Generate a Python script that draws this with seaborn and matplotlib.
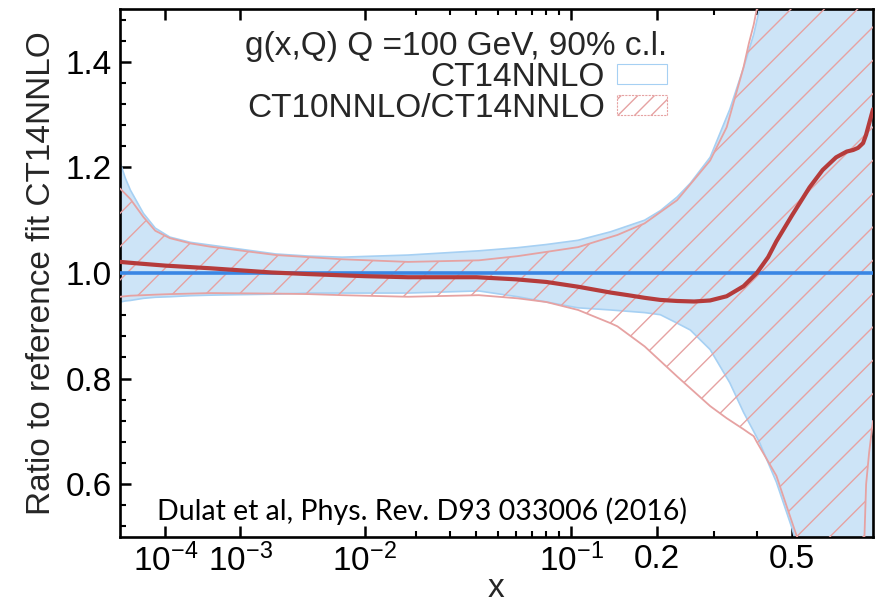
import numpy as np
import pandas as pd
import matplotlib
matplotlib.use("Agg")
import matplotlib.pyplot as plt
import seaborn as sns
from matplotlib.patches import Patch
from matplotlib.ticker import FixedLocator, FixedFormatter, MultipleLocator

# ---- CT14NNLO 90% c.l. uncertainty band (ratio to the CT14NNLO central fit)
x_ct14 = [1e-5, 1.4e-5, 1.9e-5, 3.8e-5, 6.6e-5, 1.2e-4, 2.5e-4, 4.5e-4, 2.2e-3,
          4.1e-3, 7.1e-3, 1.8e-2, 4.1e-2, 6.1e-2, 0.08, 0.106, 0.139, 0.182,
          0.205, 0.232, 0.255, 0.293, 0.335, 0.367, 0.392, 0.407, 0.453, 0.50,
          0.55, 0.8]
ct14_hi = [1.21, 1.18, 1.157, 1.113, 1.085, 1.068, 1.058, 1.053, 1.036,
           1.032, 1.030, 1.034, 1.042, 1.048, 1.054, 1.062, 1.078, 1.100,
           1.118, 1.144, 1.170, 1.219, 1.31, 1.389, 1.452, 1.50, 1.65, 1.80,
           1.95, 2.5]
ct14_lo = [0.945, 0.947, 0.948, 0.952, 0.954, 0.955, 0.957, 0.958, 0.960,
           0.962, 0.962, 0.962, 0.966, 0.955, 0.945, 0.934, 0.930, 0.925,
           0.921, 0.905, 0.892, 0.855, 0.792, 0.736, 0.700, 0.679, 0.604, 0.515,
           0.40, 0.30]

# ---- CT10NNLO / CT14NNLO uncertainty band
x_ct10 = [1e-5, 1.4e-5, 1.9e-5, 3.8e-5, 6.6e-5, 1.2e-4, 2.5e-4, 4.5e-4, 2.2e-3,
          4.1e-3, 7.1e-3, 1.8e-2, 4.1e-2, 6.1e-2, 0.08, 0.106, 0.139, 0.147,
          0.182, 0.232, 0.293, 0.328, 0.367, 0.38, 0.392, 0.40, 0.453, 0.513,
          0.60, 0.757, 0.77, 0.783, 0.8]
ct10_hi = [1.16, 1.15, 1.14, 1.106, 1.08, 1.066, 1.056, 1.050, 1.034,
           1.030, 1.026, 1.021, 1.024, 1.032, 1.040, 1.049, 1.068, 1.072,
           1.094, 1.138, 1.213, 1.276, 1.39, 1.435, 1.47, 1.50, 1.70, 1.90,
           2.2, 2.6, 2.65, 2.7, 2.8]
ct10_lo = [0.955, 0.956, 0.957, 0.958, 0.959, 0.960, 0.961, 0.962, 0.961,
           0.960, 0.958, 0.955, 0.958, 0.952, 0.945, 0.930, 0.905, 0.899,
           0.861, 0.804, 0.748, 0.725, 0.704, 0.697, 0.691, 0.680, 0.616, 0.503,
           0.40, 0.42, 0.60, 0.66, 0.72]

# ---- central values
x_ct14_central = [1e-5, 0.8]
ct14_central = [1.0, 1.0]

x_ratio = [1e-5, 3e-5, 1e-4, 4.5e-4, 2e-3, 4e-3, 1e-2, 1.8e-2, 4e-2, 6e-2,
           0.08, 0.106, 0.139, 0.16, 0.182, 0.205, 0.232, 0.262, 0.293, 0.328,
           0.367, 0.40, 0.43, 0.453, 0.50, 0.555, 0.60, 0.649, 0.69, 0.716,
           0.736, 0.757, 0.77, 0.8]
ratio_central = [1.021, 1.018, 1.014, 1.009, 1.001, 0.998, 0.994, 0.992, 0.992,
                 0.988, 0.983, 0.974, 0.963, 0.958, 0.953, 0.949, 0.947, 0.946,
                 0.948, 0.956, 0.975, 1.000, 1.030, 1.060, 1.110, 1.162, 1.195,
                 1.219, 1.230, 1.233, 1.237, 1.246, 1.262, 1.31]

# ---- axis ticks
x_major = [1e-4, 1e-3, 1e-2, 1e-1, 0.2, 0.5]
x_major_labels = [r"$10^{-4}$", r"$10^{-3}$", r"$10^{-2}$", r"$10^{-1}$", "0.2", "0.5"]
x_minor = [0.02, 0.03, 0.04, 0.05, 0.06, 0.07, 0.08, 0.09, 0.3, 0.4, 0.6, 0.7]
y_major = [0.6, 0.8, 1.0, 1.2, 1.4]

title_text = "g(x,Q) Q =100 GeV, 90% c.l."
label_ct14 = "CT14NNLO"
label_ct10 = "CT10NNLO/CT14NNLO"
citation = "Dulat et al, Phys. Rev. D93 033006 (2016)"

BLUE_FILL = "#cde4f7"
BLUE_EDGE = "#a6d0f3"
BLUE_LINE = "#3a86e4"
RED_HATCH = "#e6a2a2"
RED_LINE = "#b53b3b"
FS = 24

sns.set_theme(style="ticks")
plt.rcParams["font.family"] = ["Liberation Sans", "DejaVu Sans"]
plt.rcParams["mathtext.fontset"] = "custom"
plt.rcParams["mathtext.rm"] = "Liberation Sans"
plt.rcParams["mathtext.it"] = "Liberation Sans:italic"
plt.rcParams["mathtext.bf"] = "Liberation Sans:bold"
plt.rcParams["mathtext.default"] = "regular"
plt.rcParams["hatch.linewidth"] = 1.0

P = 0.22


def fwd(v):
    v = np.asarray(v, dtype=float)
    return np.sign(v) * np.abs(v) ** P


def inv(v):
    v = np.asarray(v, dtype=float)
    return np.sign(v) * np.abs(v) ** (1.0 / P)


fig = plt.figure(figsize=(8.76, 6.04), dpi=100)
ax = fig.add_axes([120 / 876, 67 / 604, 753 / 876, 528 / 604])
ax.set_xscale("function", functions=(fwd, inv))

# CT14NNLO band
ax.fill_between(x_ct14, ct14_lo, ct14_hi, facecolor=BLUE_FILL, edgecolor="none",
                linewidth=0, zorder=1)
ax.plot(x_ct14, ct14_hi, color=BLUE_EDGE, lw=1.2, zorder=2)
ax.plot(x_ct14, ct14_lo, color=BLUE_EDGE, lw=1.2, zorder=2)

# CT10NNLO/CT14NNLO hatched band
ax.fill_between(x_ct10, ct10_lo, ct10_hi, facecolor="none", edgecolor=RED_HATCH,
                hatch="/", linewidth=0, zorder=3)
ax.plot(x_ct10, ct10_hi, color=RED_HATCH, lw=1.3, zorder=3)
ax.plot(x_ct10, ct10_lo, color=RED_HATCH, lw=1.3, zorder=3)

# central curves
df_ct14 = pd.DataFrame({"x": x_ct14_central, "r": ct14_central})
df_ratio = pd.DataFrame({"x": x_ratio, "r": ratio_central})
sns.lineplot(data=df_ct14, x="x", y="r", ax=ax, color=BLUE_LINE, lw=2.6,
             estimator=None, sort=False, zorder=4)
sns.lineplot(data=df_ratio, x="x", y="r", ax=ax, color=RED_LINE, lw=3.0,
             estimator=None, sort=False, zorder=5)

ax.set_xlim(1e-5, 0.8)
ax.set_ylim(0.5, 1.5)

ax.xaxis.set_major_locator(FixedLocator(x_major))
ax.xaxis.set_major_formatter(FixedFormatter(x_major_labels))
ax.xaxis.set_minor_locator(FixedLocator(x_minor))
ax.yaxis.set_major_locator(FixedLocator(y_major))
ax.yaxis.set_major_formatter(FixedFormatter([f"{v:.1f}" for v in y_major]))
ax.yaxis.set_minor_locator(MultipleLocator(0.04))

ax.tick_params(which="both", direction="in", top=True, right=True,
               colors="black", labelsize=FS)
ax.tick_params(which="major", length=8, width=1.8)
ax.tick_params(axis="x", which="major", pad=5)
ax.tick_params(axis="y", which="major", pad=6)
ax.tick_params(which="minor", length=4.5, width=1.5)
for s in ax.spines.values():
    s.set_linewidth(1.9)
    s.set_color("black")

ax.set_xlabel("x", fontsize=FS, labelpad=-4)
ax.set_ylabel("Ratio to reference fit CT14NNLO", fontsize=FS, labelpad=6)

handles = [
    Patch(facecolor="white", edgecolor=BLUE_EDGE, linewidth=0.8),
    Patch(facecolor="white", edgecolor=RED_HATCH, hatch="//", linewidth=0.8,
          linestyle=(0, (2, 1))),
]
leg = ax.legend(handles, [label_ct14, label_ct10], title=title_text,
                loc="upper right", bbox_to_anchor=(0.7264, 0.958),
                frameon=False, fontsize=FS, title_fontsize=FS,
                markerfirst=False, alignment="right", handlelength=1.5,
                handleheight=0.55, handletextpad=0.36, labelspacing=0.0,
                borderpad=0, borderaxespad=0)
leg.set_zorder(10)

ax.text(0.049, 0.032, citation, transform=ax.transAxes, fontsize=20.5,
        family=["Lato", "DejaVu Sans"], ha="left", va="baseline", color="black",
        zorder=10)

fig.savefig("out.png", dpi=100, facecolor="white")
